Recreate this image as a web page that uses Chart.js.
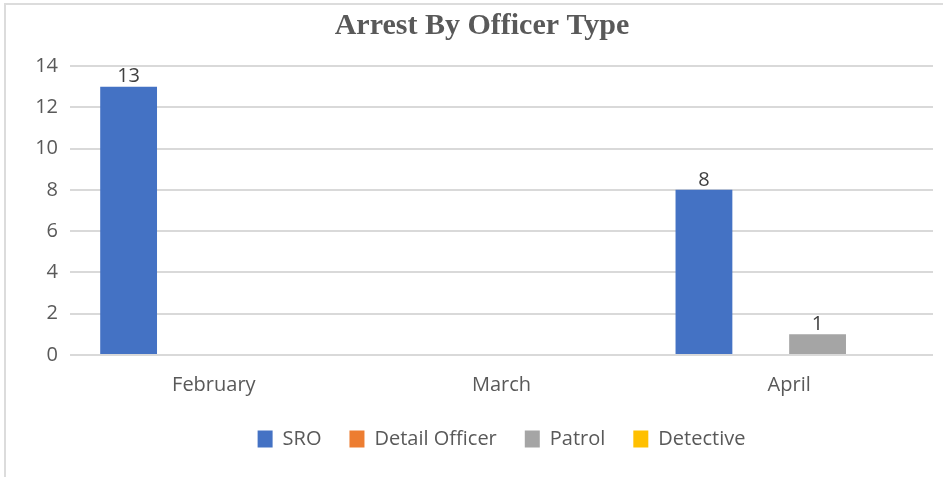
<!DOCTYPE html>
<html>
<head>
<meta charset="utf-8">
<script src="https://cdn.jsdelivr.net/npm/chart.js@4/dist/chart.umd.min.js"></script>
<style>
  html, body { margin: 0; padding: 0; background: #fff; overflow: hidden; }
  #wrap { position: absolute; left: 4px; top: 3px; width: 952px; height: 474px;
          border-top: 2px solid #dcdcdc; border-left: 2px solid #dcdcdc; }
</style>
</head>
<body>
<div id="wrap"><canvas id="barChart"></canvas></div>
<script>
// chart data
var months = ["February", "March", "April"];
var sro = [13, 0, 8];
var detailOfficer = [0, 0, 0];
var patrol = [0, 0, 1];
var detective = [0, 0, 0];
var yTicks = [0, 2, 4, 6, 8, 10, 12, 14];

var textColor = '#595959';
var uiFont = "'Open Sans', 'Noto Sans', sans-serif";

// value labels above the bars (zeros left out, like the original)
var barLabels = {
  id: 'barLabels',
  afterDatasetsDraw: function(chart) {
    var ctx = chart.ctx;
    ctx.save();
    ctx.font = '20px ' + uiFont;
    ctx.fillStyle = '#404040';
    ctx.textAlign = 'center';
    ctx.textBaseline = 'bottom';
    chart.data.datasets.forEach(function(ds, i) {
      chart.getDatasetMeta(i).data.forEach(function(bar, j) {
        if (ds.data[j] > 0) ctx.fillText(ds.data[j], bar.x, bar.y);
      });
    });
    ctx.restore();
  }
};

var ctx = document.getElementById("barChart").getContext('2d');
var myBarChart = new Chart(ctx, {
  type: 'bar',
  data: {
    labels: months,
    datasets: [
      { label: "SRO", data: sro, backgroundColor: '#4472C4' },
      { label: "Detail Officer", data: detailOfficer, backgroundColor: '#ED7D31' },
      { label: "Patrol", data: patrol, backgroundColor: '#A5A5A5' },
      { label: "Detective", data: detective, backgroundColor: '#FFC000' }
    ]
  },
  options: {
    responsive: true,
    maintainAspectRatio: false,
    animation: false,
    layout: { padding: { top: 0, right: 0, bottom: 20, left: 0 } },
    datasets: { bar: { barPercentage: 1, categoryPercentage: 0.79 } },
    plugins: {
      title: {
        display: true,
        text: 'Arrest By Officer Type',
        color: textColor,
        font: { family: "'Liberation Serif', serif", size: 30, weight: 'bold' },
        padding: { top: 3, bottom: 22 }
      },
      legend: {
        position: 'bottom',
        fullSize: false,
        labels: {
          color: textColor,
          font: { family: uiFont, size: 20 },
          boxWidth: 15,
          boxHeight: 17,
          padding: 28
        }
      },
      tooltip: { enabled: false }
    },
    scales: {
      x: {
        grid: { display: false, drawTicks: false },
        border: { display: false },
        ticks: { color: textColor, font: { family: uiFont, size: 20 }, padding: 18 },
        afterFit: function(axis) { axis.height -= 14; }
      },
      y: {
        min: 0,
        max: 14,
        afterBuildTicks: function(axis) {
          axis.ticks = yTicks.map(function(v) { return { value: v }; });
        },
        afterFit: function(axis) { axis.width = 64; },
        grid: { color: '#d9d9d9', lineWidth: 2, drawTicks: false },
        border: { display: false },
        ticks: { color: textColor, font: { family: uiFont, size: 20 }, padding: 12 }
      },
      // empty right-hand margin so the plot stops where the original does
      yRight: {
        position: 'right',
        grid: { display: false, drawTicks: false },
        border: { display: false },
        ticks: { display: false },
        afterFit: function(axis) { axis.width = 25; }
      }
    }
  },
  plugins: [barLabels]
});
</script>
</body>
</html>
